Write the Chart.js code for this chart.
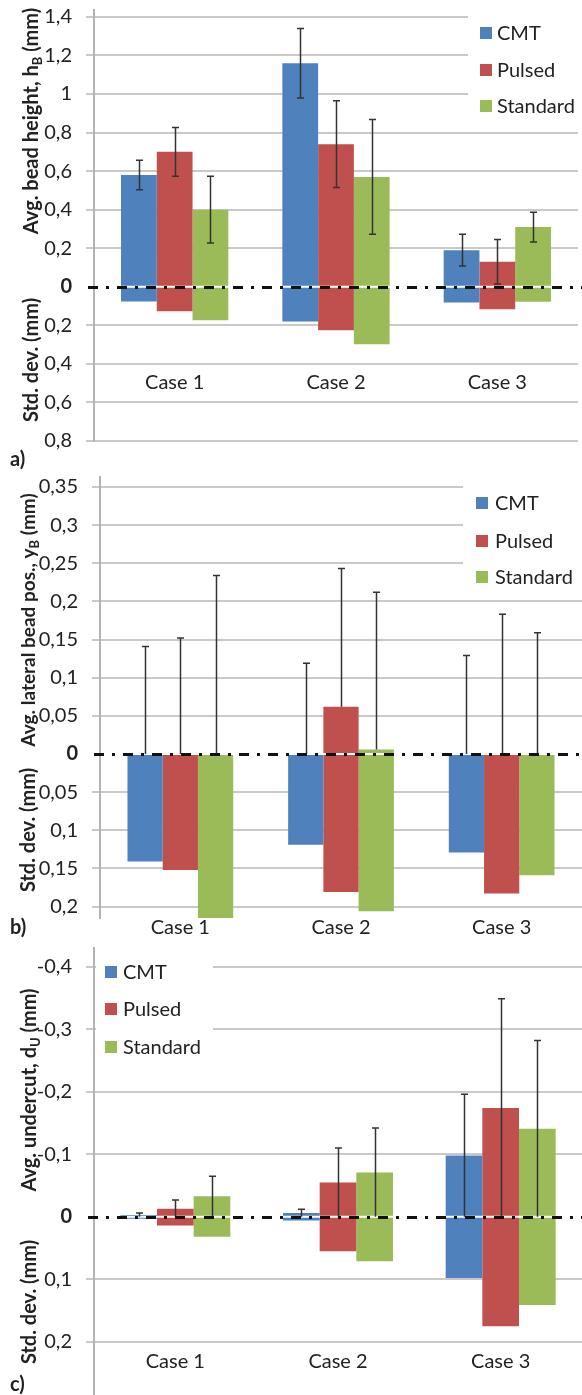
<!DOCTYPE html>
<html>
<head>
<meta charset="utf-8">
<script src="https://cdn.jsdelivr.net/npm/chart.js@4"></script>
<style>
  html, body { margin: 0; padding: 0; background: #fff; }
  body { width: 582px; height: 1395px; position: relative; overflow: hidden; }
  canvas { position: absolute; left: 0; }
</style>
</head>
<body>
<canvas id="panelA" width="582" height="475" style="top:0px"></canvas>
<canvas id="panelB" width="582" height="478" style="top:465px"></canvas>
<canvas id="panelC" width="582" height="460" style="top:935px"></canvas>
<script>
// Categories and welding processes
const cases = ['Case 1', 'Case 2', 'Case 3'];
const methods = ['CMT', 'Pulsed', 'Standard'];

// a) Average bead height (mm) and its standard deviation
const heightCMT = [0.58, 1.16, 0.19];
const heightPulsed = [0.70, 0.74, 0.13];
const heightStandard = [0.40, 0.57, 0.31];
const heightSdCMT = [0.076, 0.18, 0.082];
const heightSdPulsed = [0.127, 0.225, 0.116];
const heightSdStandard = [0.173, 0.298, 0.077];
const heightTicks = [-0.8, -0.6, -0.4, -0.2, 0, 0.2, 0.4, 0.6, 0.8, 1, 1.2, 1.4];

// b) Average lateral bead position (mm) and its standard deviation
const lateralCMT = [0, 0, 0];
const lateralPulsed = [0, 0.062, 0];
const lateralStandard = [0, 0.006, 0];
const lateralSdCMT = [0.141, 0.119, 0.129];
const lateralSdPulsed = [0.152, 0.181, 0.183];
const lateralSdStandard = [0.234, 0.206, 0.159];
const lateralTicks = [-0.2, -0.15, -0.1, -0.05, 0, 0.05, 0.1, 0.15, 0.2, 0.25, 0.3, 0.35];

// c) Average undercut (mm, negative = undercut) and its standard deviation
const undercutCMT = [-0.003, -0.006, -0.098];
const undercutPulsed = [-0.013, -0.055, -0.174];
const undercutStandard = [-0.033, -0.071, -0.141];
const undercutSdCMT = [0.003, 0.006, 0.098];
const undercutSdPulsed = [0.014, 0.055, 0.175];
const undercutSdStandard = [0.032, 0.071, 0.141];
const undercutTicks = [-0.4, -0.3, -0.2, -0.1, 0, 0.1, 0.2];

const COLORS = ['#4F81BD', '#C0504D', '#9BBB59'];
const GRID = '#c9c9c9';
const AXIS = '#b3b3b3';
const INK = '#222222';
const FONT = 'Lato, "Open Sans", sans-serif';

const commaNum = v => {
  const r = Math.round(v * 1000) / 1000;
  if (r === 0) return '0';
  return (r < 0 ? '-' : '') + String(Math.abs(r)).replace('.', ',');
};
const fmtAbs = v => commaNum(Math.abs(v));
const fmtSigned = v => commaNum(v);

// Error bars on the average bars
const errorBars = {
  id: 'errorBars',
  afterDatasetsDraw(chart, args, opts) {
    const { ctx } = chart;
    const y = chart.scales.y;
    ctx.save();
    ctx.strokeStyle = '#333333';
    ctx.lineWidth = 1.5;
    chart.data.datasets.forEach((ds, di) => {
      if (ds.role !== 'avg') return;
      const meta = chart.getDatasetMeta(di);
      meta.data.forEach((bar, i) => {
        const v = ds.data[i], e = ds.err[i];
        let from, to;
        if (opts.mode === 'both') { from = v - e; to = v + e; }
        else if (opts.mode === 'up') { from = v; to = v + e; }
        else { from = 0; to = v - e; }
        const x = Math.round(bar.x) + 0.5;
        const y0 = y.getPixelForValue(from), y1 = y.getPixelForValue(to);
        ctx.beginPath();
        ctx.moveTo(x, y0); ctx.lineTo(x, y1);
        ctx.moveTo(x - 3.5, y1); ctx.lineTo(x + 3.5, y1);
        if (opts.mode === 'both') { ctx.moveTo(x - 3.5, y0); ctx.lineTo(x + 3.5, y0); }
        ctx.stroke();
      });
    });
    ctx.restore();
  }
};

// Dash-dot zero line across the plot
const zeroLine = {
  id: 'zeroLine',
  afterDatasetsDraw(chart) {
    const { ctx, chartArea } = chart;
    const yPix = Math.round(chart.scales.y.getPixelForValue(0)) + 0.5;
    ctx.save();
    ctx.strokeStyle = '#111111';
    ctx.lineWidth = 3;
    ctx.setLineDash([10, 8, 3, 8]);
    ctx.beginPath();
    ctx.moveTo(chartArea.left - 6, yPix);
    ctx.lineTo(chart.width, yPix);
    ctx.stroke();
    ctx.restore();
  }
};

// Legend boxed inside the plot area
const boxLegend = {
  id: 'boxLegend',
  afterDraw(chart, args, o) {
    const { ctx } = chart;
    ctx.save();
    ctx.fillStyle = '#ffffff';
    ctx.fillRect(o.box[0], o.box[1], o.box[2], o.box[3]);
    ctx.font = `20px ${FONT}`;
    ctx.textBaseline = 'middle';
    ctx.textAlign = 'left';
    chart.data.datasets.filter(d => d.role === 'avg').forEach((d, i) => {
      const cy = o.rows[i];
      ctx.fillStyle = d.backgroundColor;
      ctx.fillRect(o.markX, cy - 6, 12, 12);
      ctx.fillStyle = INK;
      ctx.fillText(d.label, o.textX, cy + 1);
    });
    ctx.restore();
  }
};

// Rotated axis titles (average above zero, std. dev. below) and panel letter
const sideTitles = {
  id: 'sideTitles',
  afterDraw(chart, args, o) {
    const { ctx } = chart;
    ctx.save();
    ctx.fillStyle = INK;
    o.items.forEach(it => {
      ctx.save();
      ctx.translate(o.x, it.y);
      ctx.rotate(-Math.PI / 2);
      const size = it.size || 20;
      const fonts = it.parts.map(p => p.sub ? `bold 13px ${FONT}` : `bold ${size}px ${FONT}`);
      let total = 0;
      const widths = it.parts.map((p, k) => {
        ctx.font = fonts[k];
        const w = ctx.measureText(p.t).width;
        total += w;
        return w;
      });
      let x = -total / 2;
      ctx.textBaseline = 'alphabetic';
      ctx.textAlign = 'left';
      it.parts.forEach((p, k) => {
        ctx.font = fonts[k];
        ctx.fillText(p.t, x, p.sub ? 11 : 7);
        x += widths[k];
      });
      ctx.restore();
    });
    ctx.font = `bold 20px ${FONT}`;
    ctx.textBaseline = 'middle';
    ctx.textAlign = 'left';
    ctx.fillText(o.letter, o.letterX, o.letterY);
    ctx.restore();
  }
};

function panel(id, p) {
  const datasets = [];
  methods.forEach((m, i) => {
    datasets.push({ label: m, role: 'avg', data: p.avg[i], err: p.sd[i], stack: m, backgroundColor: COLORS[i] });
    datasets.push({ label: m, role: 'sd', data: p.sd[i].map(v => p.sdSign * v), stack: m, backgroundColor: COLORS[i] });
  });
  return new Chart(document.getElementById(id), {
    type: 'bar',
    data: { labels: cases, datasets },
    options: {
      responsive: false,
      animation: false,
      devicePixelRatio: 1,
      layout: { padding: p.padding },
      datasets: { bar: { categoryPercentage: p.catPct, barPercentage: 1, borderWidth: 0 } },
      scales: {
        x: {
          type: 'category', axis: 'x', stacked: true,
          position: { y: p.labelAt },
          grid: { display: false, drawTicks: false },
          border: { display: false },
          ticks: { padding: 0, color: INK, maxRotation: 0, autoSkip: false, font: { family: FONT, size: 20 } },
          afterFit: s => { s.height = 0; s.paddingLeft = 0; s.paddingRight = 0; }
        },
        y: {
          type: 'linear', stacked: true, min: p.min, max: p.max, reverse: !!p.reverse,
          afterBuildTicks: s => { s.ticks = p.ticks.map(v => ({ value: v })); },
          afterFit: s => { s.width = p.left; s.paddingTop = 0; s.paddingBottom = 0; },
          grid: {
            color: c => (c.tick && c.tick.value === 0) ? 'rgba(0,0,0,0)' : GRID,
            lineWidth: 2, tickLength: 8
          },
          border: { color: AXIS, width: 2 },
          ticks: {
            padding: 14, color: INK, callback: p.fmt,
            font: c => ({ family: FONT, size: 20, weight: (c.tick && c.tick.value === 0) ? 'bold' : 'normal' })
          }
        }
      },
      plugins: {
        legend: { display: false },
        tooltip: { enabled: false },
        errorBars: { mode: p.errMode },
        boxLegend: p.legend,
        sideTitles: p.titles
      }
    },
    plugins: [errorBars, zeroLine, boxLegend, sideTitles]
  });
}

const sdTitle = [{ t: 'Std. dev. (mm)' }];

panel('panelA', {
  avg: [heightCMT, heightPulsed, heightStandard],
  sd: [heightSdCMT, heightSdPulsed, heightSdStandard],
  sdSign: -1, ticks: heightTicks, fmt: fmtAbs,
  min: -0.8, max: 1.436, left: 94, labelAt: -0.437, catPct: 0.665,
  padding: { top: 10, bottom: 34, left: 0, right: 4 },
  errMode: 'both',
  legend: { box: [468, 10, 110, 110], markX: 480, textX: 497, rows: [33, 70, 106] },
  titles: {
    x: 31, letter: 'a)', letterX: 10, letterY: 460,
    items: [
      { y: 121, parts: [{ t: 'Avg. bead height, h' }, { t: 'B', sub: true }, { t: ' (mm)' }] },
      { y: 360, parts: sdTitle }
    ]
  }
});

panel('panelB', {
  avg: [lateralCMT, lateralPulsed, lateralStandard],
  sd: [lateralSdCMT, lateralSdPulsed, lateralSdStandard],
  sdSign: -1, ticks: lateralTicks, fmt: fmtAbs,
  min: -0.215, max: 0.363, left: 100, labelAt: -0.212, catPct: 0.658,
  padding: { top: 12, bottom: 25, left: 0, right: 0 },
  errMode: 'up',
  legend: { box: [463, 12, 119, 116], markX: 476, textX: 495, rows: [38, 76, 112] },
  titles: {
    x: 28, letter: 'b)', letterX: 10, letterY: 463,
    items: [
      { y: 155, size: 19, parts: [{ t: 'Avg. lateral bead pos., y' }, { t: 'B', sub: true }, { t: ' (mm)' }] },
      { y: 365, parts: sdTitle }
    ]
  }
});

panel('panelC', {
  avg: [undercutCMT, undercutPulsed, undercutStandard],
  sd: [undercutSdCMT, undercutSdPulsed, undercutSdStandard],
  sdSign: 1, reverse: true, ticks: undercutTicks, fmt: fmtSigned,
  min: -0.43, max: 0.285, left: 94, labelAt: 0.213, catPct: 0.676,
  padding: { top: 13, bottom: 0, left: 0, right: 0 },
  errMode: 'fromZero',
  legend: { box: [96, 13, 117, 125], markX: 105, textX: 123, rows: [37, 74, 112] },
  titles: {
    x: 29, letter: 'c)', letterX: 10, letterY: 450,
    items: [
      { y: 155, parts: [{ t: 'Avg. undercut, d' }, { t: 'U', sub: true }, { t: ' (mm)' }] },
      { y: 367, parts: sdTitle }
    ]
  }
});
</script>
</body>
</html>
